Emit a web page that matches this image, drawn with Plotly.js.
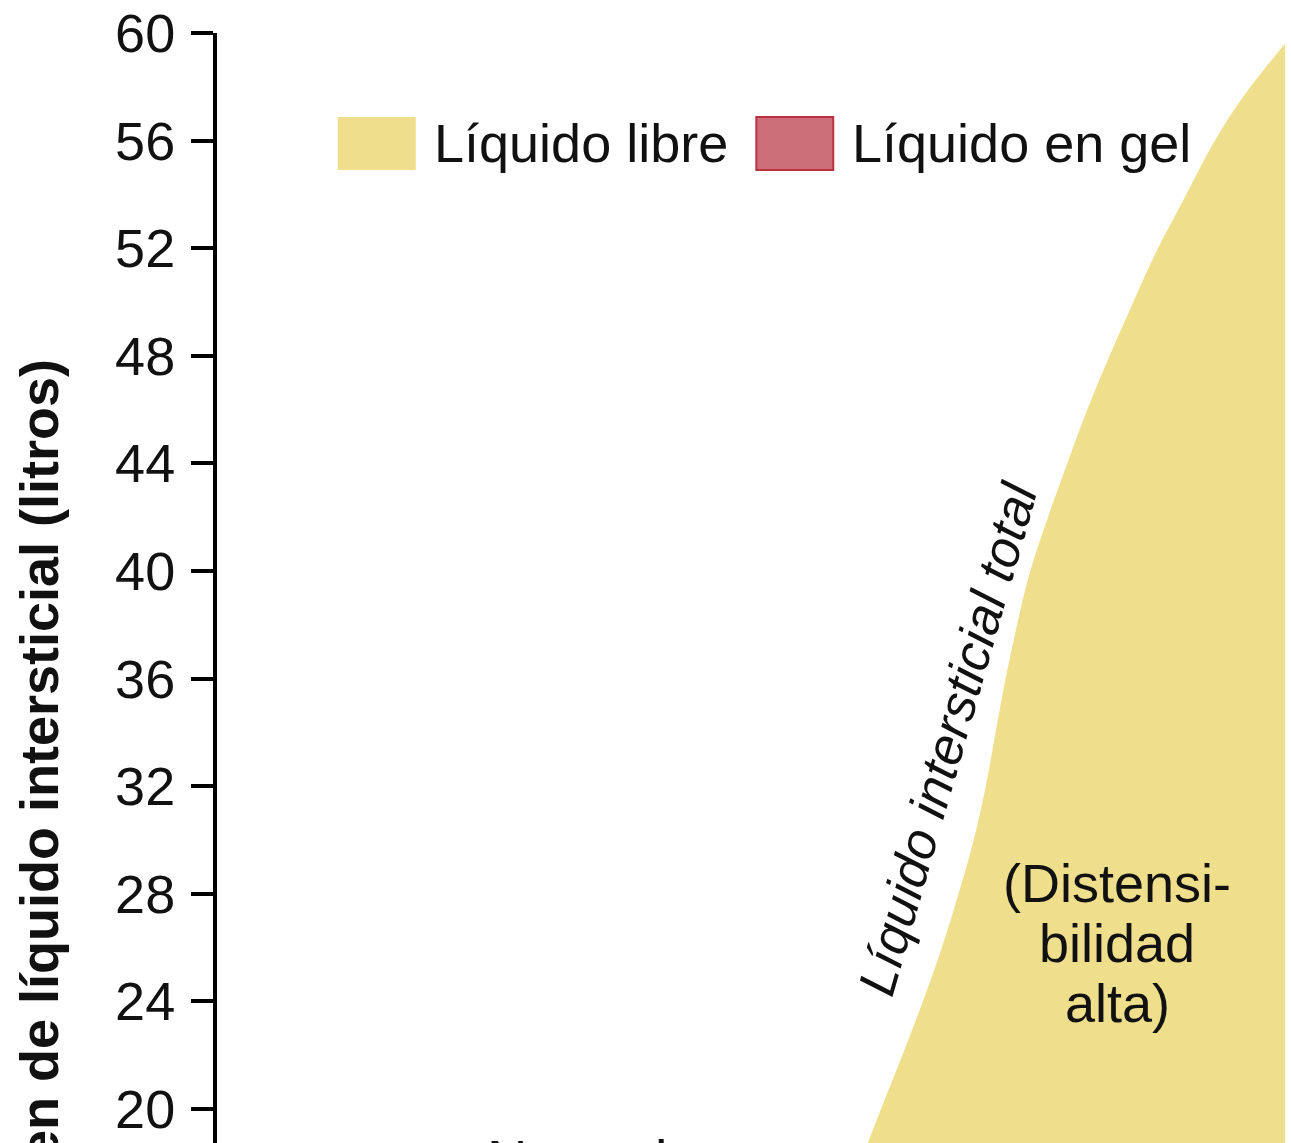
<!DOCTYPE html>
<html>
<head>
<meta charset="utf-8">
<script src="https://cdn.plot.ly/plotly-3.0.1.min.js"></script>
<style>
  html, body { margin: 0; padding: 0; background: #ffffff; overflow: hidden; }
  #wrap { width: 1291px; height: 1143px; overflow: hidden; position: relative; }
  #chart { width: 1291px; height: 1747px; }
</style>
</head>
<body>
<div id="wrap"><div id="chart"></div></div>
<script>
// ---- data ----
// Total interstitial fluid curve: volume (litros) vs free-fluid pressure (mm Hg)
const volumenTotal = [18.5, 19.9, 21.9, 23.9, 25.9, 27.9, 29.9, 31.9, 33.9, 35.9, 37.9, 39.9,
                      41.9, 43.8, 45.8, 47.8, 49.8, 51.8, 53.8, 55.9, 57.7, 59.6];
const presionTotal = [-1.50, -1.31, -1.03, -0.76, -0.51, -0.29, -0.09, 0.07, 0.20, 0.33, 0.48, 0.65,
                      0.88, 1.12, 1.38, 1.67, 1.98, 2.30, 2.67, 3.06, 3.47, 4.00];
const presionRange = [-10, 4];
const volumenRange = [0, 60];
const yTicks = [20, 24, 28, 32, 36, 40, 44, 48, 52, 56, 60];
const legendLabels = ["Líquido libre", "Líquido en gel"];
const yTitle = "Volumen de líquido intersticial (litros)";
const curveLabel = "Líquido intersticial total";
const distLines = ["(Distensi-", "bilidad", "alta)"];
const normalLabel = "Normal";

const colLibre = "#EFDF8C";
const colGel = "#CD6F78";
const colGelLine = "#B9303F";
const FONT = "Liberation Sans, Arial, Helvetica, sans-serif";

// right boundary of the free-fluid area = right end of the pressure axis
const bordeDerecho = volumenTotal.map(() => presionRange[1]);

const traces = [
  {
    x: bordeDerecho, y: volumenTotal, type: "scatter", mode: "lines",
    line: { width: 0, color: colLibre }, hoverinfo: "skip", showlegend: false
  },
  {
    x: presionTotal, y: volumenTotal, type: "scatter", mode: "lines",
    name: legendLabels[0],
    line: { width: 0, color: colLibre, shape: "spline", smoothing: 1 },
    fill: "tonextx", fillcolor: colLibre, showlegend: false
  }
];

const annotations = [
  { xref: "paper", yref: "paper", x: 0.2009, y: 0.9319, xanchor: "left", yanchor: "middle",
    text: legendLabels[0], showarrow: false, font: { family: FONT, size: 54, color: "#111" } },
  { xref: "paper", yref: "paper", x: 0.5925, y: 0.9319, xanchor: "left", yanchor: "middle",
    text: legendLabels[1], showarrow: false, font: { family: FONT, size: 54, color: "#111" } },
  { xref: "x", yref: "y", x: -0.42, y: 33.75, text: "<i>" + curveLabel + "</i>", textangle: -74,
    showarrow: false, font: { family: FONT, size: 52, color: "#111" } },
  { xref: "x", yref: "y", x: 1.80, y: 28.40, text: distLines[0], showarrow: false,
    font: { family: FONT, size: 54, color: "#111" } },
  { xref: "x", yref: "y", x: 1.80, y: 26.17, text: distLines[1], showarrow: false,
    font: { family: FONT, size: 54, color: "#111" } },
  { xref: "x", yref: "y", x: 1.80, y: 23.94, text: distLines[2], showarrow: false,
    font: { family: FONT, size: 54, color: "#111" } },
  { xref: "x", yref: "y", x: -5.28, y: 18.12, text: normalLabel, showarrow: false,
    font: { family: FONT, size: 56, color: "#111" } }
];

const shapes = [
  { type: "rect", xref: "paper", yref: "paper", x0: 0.1131, x1: 0.1861, y0: 0.9151, y1: 0.9480,
    fillcolor: colLibre, line: { width: 0 } },
  { type: "rect", xref: "paper", yref: "paper", x0: 0.5050, x1: 0.5770, y0: 0.9151, y1: 0.9480,
    fillcolor: colGel, line: { width: 2, color: colGelLine } }
];

const layout = {
  width: 1291, height: 1747,
  margin: { l: 217, r: 6, t: 33, b: 100 },
  paper_bgcolor: "#ffffff", plot_bgcolor: "#ffffff",
  showlegend: false,
  xaxis: { range: presionRange, visible: false, fixedrange: true },
  yaxis: {
    range: volumenRange, tickvals: yTicks, ticktext: yTicks.map(String),
    showline: true, linecolor: "#000", linewidth: 4,
    ticks: "outside", ticklen: 22, tickwidth: 4, tickcolor: "#000",
    showgrid: false, zeroline: false, ticklabelstandoff: 5,
    tickfont: { family: FONT, size: 54, color: "#111" },
    title: { text: "<b>" + yTitle + "</b>", standoff: 40,
             font: { family: FONT, size: 54, color: "#111" } },
    automargin: false, fixedrange: true
  },
  annotations: annotations,
  shapes: shapes
};

Plotly.newPlot("chart", traces, layout, { displayModeBar: false, staticPlot: true });
</script>
</body>
</html>
